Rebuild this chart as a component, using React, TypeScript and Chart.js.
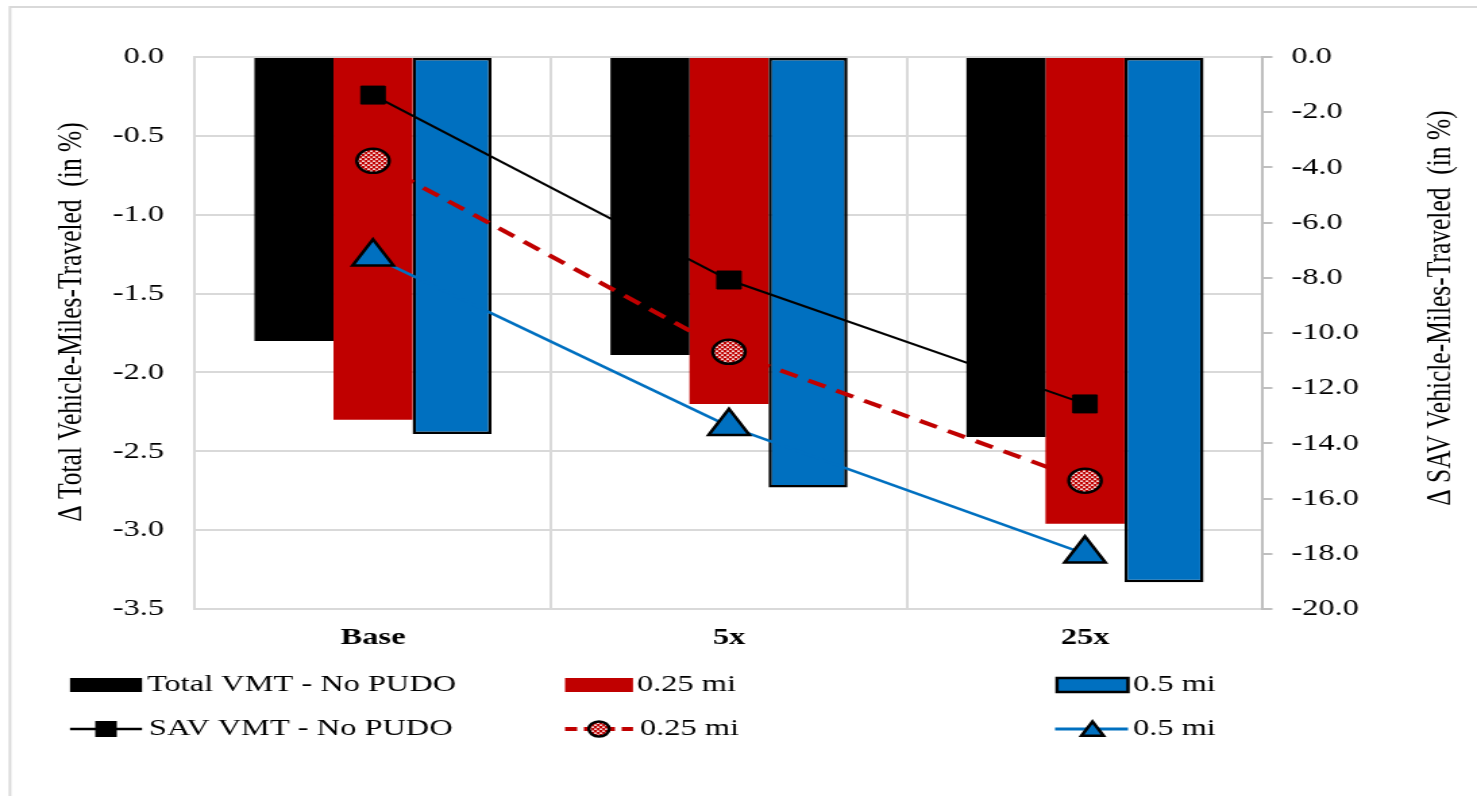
import React, { useEffect, useRef } from 'react';
import Chart from 'chart.js/auto';

// ---- data ----
const categories = ['Base', '5x', '25x'];
const totalVmtNoPudo = [-1.8, -1.89, -2.41];
const totalVmt025 = [-2.3, -2.2, -2.96];
const totalVmt05 = [-2.39, -2.73, -3.33];
const savVmtNoPudo = [-1.38, -8.08, -12.57];
const savVmt025 = [-3.76, -10.68, -15.35];
const savVmt05 = [-7.24, -13.38, -18.0];

const leftAxisMin = -3.5;
const leftAxisMax = 0;
const leftAxisStep = 0.5;
const rightAxisMin = -20;
const rightAxisMax = 0;
const rightAxisStep = 2;

const leftTitle = 'Δ Total Vehicle-Miles-Traveled  (in %)';
const rightTitle = 'Δ SAV Vehicle-Miles-Traveled  (in %)';
const legendBarLabels = ['Total VMT - No PUDO', '0.25 mi', '0.5 mi'];
const legendLineLabels = ['SAV VMT - No PUDO', '0.25 mi', '0.5 mi'];

// ---- styling ----
const BLACK = '#000000';
const RED = '#c00000';
const BLUE = '#0070c0';
const GRID = '#d9d9d9';
const AXIS = '#bfbfbf';
const FONT = "'Liberation Serif', 'Times New Roman', serif";

const OUT_W = 1477;
const OUT_H = 796;
const STRETCH = 1.35;
const W = Math.round(OUT_W / STRETCH);
const H = OUT_H;
const K = OUT_W / W;
const sx = (px: number) => px / K;

function makePattern(ctx: CanvasRenderingContext2D) {
  const pc = document.createElement('canvas');
  pc.width = 4;
  pc.height = 4;
  const p = pc.getContext('2d')!;
  p.fillStyle = RED;
  p.fillRect(0, 0, 4, 4);
  p.fillStyle = '#ffffff';
  p.fillRect(0, 0.5, 2.2, 1.3);
  p.fillRect(2, 2.5, 2.2, 1.3);
  return ctx.createPattern(pc, 'repeat') as CanvasPattern;
}

function drawTriangle(ctx: CanvasRenderingContext2D, x: number, y: number, r: number) {
  ctx.beginPath();
  for (let i = 0; i < 3; i++) {
    const a = (i * 2 * Math.PI) / 3;
    const px = x + Math.sin(a) * r;
    const py = y - Math.cos(a) * r;
    if (i === 0) ctx.moveTo(px, py);
    else ctx.lineTo(px, py);
  }
  ctx.closePath();
}

export default function App() {
  const ref = useRef<HTMLCanvasElement | null>(null);

  useEffect(() => {
    document.body.style.margin = '0';
    document.body.style.overflow = 'hidden';
    const canvas = ref.current!;
    const c2d = canvas.getContext('2d')!;
    const pattern = makePattern(c2d);

    const decor = {
      id: 'decor',
      afterDraw(chart: any) {
        const ctx: CanvasRenderingContext2D = chart.ctx;
        ctx.save();
        // outer frame
        ctx.strokeStyle = GRID;
        ctx.lineWidth = 2;
        ctx.beginPath();
        ctx.moveTo(W + 5, 7);
        ctx.lineTo(sx(10), 7);
        ctx.lineTo(sx(10), H + 5);
        ctx.stroke();

        // axis titles
        ctx.fillStyle = BLACK;
        ctx.font = `25.5px ${FONT}`;
        ctx.textAlign = 'center';
        ctx.textBaseline = 'middle';
        const vText = (t: string, x: number, y: number) => {
          ctx.save();
          ctx.translate(x, y);
          ctx.rotate(-Math.PI / 2);
          ctx.fillText(t, 0, 0);
          ctx.restore();
        };
        vText(leftTitle, sx(72), 322);
        vText(rightTitle, sx(1441), 308);

        // legend
        const r1 = 685;
        const r2 = 729;
        ctx.font = `24px ${FONT}`;
        ctx.textAlign = 'left';
        ctx.textBaseline = 'middle';
        // row 1 swatches
        ctx.fillStyle = BLACK;
        ctx.fillRect(sx(70), 678, sx(142) - sx(70), 14);
        ctx.fillStyle = RED;
        ctx.fillRect(sx(565), 678, sx(633) - sx(565), 14);
        ctx.fillStyle = BLUE;
        ctx.fillRect(sx(1057), 678, sx(1128) - sx(1057), 14);
        ctx.strokeStyle = BLACK;
        ctx.lineWidth = 2.5;
        ctx.strokeRect(sx(1057), 678, sx(1128) - sx(1057), 14);
        ctx.fillStyle = BLACK;
        ctx.fillText(legendBarLabels[0], sx(147), r1);
        ctx.fillText(legendBarLabels[1], sx(637), r1);
        ctx.fillText(legendBarLabels[2], sx(1133), r1);

        // row 2 lines
        ctx.strokeStyle = BLACK;
        ctx.lineWidth = 2.5;
        ctx.beginPath();
        ctx.moveTo(sx(70), r2);
        ctx.lineTo(sx(142), r2);
        ctx.stroke();
        ctx.fillStyle = BLACK;
        ctx.fillRect(sx(106) - 8, r2 - 8, 16, 16);

        ctx.strokeStyle = RED;
        ctx.lineWidth = 4;
        ctx.setLineDash([9, 5]);
        ctx.beginPath();
        ctx.moveTo(sx(565), r2);
        ctx.lineTo(sx(633), r2);
        ctx.stroke();
        ctx.setLineDash([]);
        ctx.beginPath();
        ctx.arc(sx(599), r2, 7.5, 0, Math.PI * 2);
        ctx.fillStyle = pattern;
        ctx.fill();
        ctx.strokeStyle = BLACK;
        ctx.lineWidth = 2.5;
        ctx.stroke();

        ctx.strokeStyle = BLUE;
        ctx.lineWidth = 3;
        ctx.beginPath();
        ctx.moveTo(sx(1055), r2);
        ctx.lineTo(sx(1128), r2);
        ctx.stroke();
        drawTriangle(ctx, sx(1092.5), r2 + 2, 9.5);
        ctx.fillStyle = BLUE;
        ctx.fill();
        ctx.strokeStyle = BLACK;
        ctx.lineWidth = 2.5;
        ctx.stroke();

        ctx.fillStyle = BLACK;
        ctx.fillText(legendLineLabels[0], sx(149), r2);
        ctx.fillText(legendLineLabels[1], sx(640), r2);
        ctx.fillText(legendLineLabels[2], sx(1133), r2);
        ctx.restore();
      },
    };

    const tickFont = { family: FONT, size: 24 };

    const chart = new Chart(canvas, {
      type: 'bar',
      data: {
        labels: categories,
        datasets: [
          {
            type: 'bar',
            label: legendBarLabels[0],
            data: totalVmtNoPudo,
            yAxisID: 'y',
            backgroundColor: BLACK,
            borderWidth: 0,
            order: 2,
          },
          {
            type: 'bar',
            label: legendBarLabels[1],
            data: totalVmt025,
            yAxisID: 'y',
            backgroundColor: RED,
            borderWidth: 0,
            order: 2,
          },
          {
            type: 'bar',
            label: legendBarLabels[2],
            data: totalVmt05,
            yAxisID: 'y',
            backgroundColor: BLUE,
            borderColor: BLACK,
            borderWidth: 2.5,
            borderSkipped: false,
            order: 2,
          },
          {
            type: 'line',
            label: legendLineLabels[0],
            data: savVmtNoPudo,
            yAxisID: 'y2',
            borderColor: BLACK,
            borderWidth: 2,
            pointStyle: 'rect',
            pointRadius: 12.7,
            pointBackgroundColor: BLACK,
            pointBorderColor: BLACK,
            pointBorderWidth: 1,
            order: 1,
          },
          {
            type: 'line',
            label: legendLineLabels[1],
            data: savVmt025,
            yAxisID: 'y2',
            borderColor: RED,
            borderWidth: 4,
            borderDash: [14, 9],
            pointStyle: 'circle',
            pointRadius: 12,
            pointBackgroundColor: pattern,
            pointBorderColor: BLACK,
            pointBorderWidth: 2.5,
            order: 1,
          },
          {
            type: 'line',
            label: legendLineLabels[2],
            data: savVmt05,
            yAxisID: 'y2',
            borderColor: BLUE,
            borderWidth: 2.5,
            pointStyle: 'triangle',
            pointRadius: 17.5,
            pointBackgroundColor: BLUE,
            pointBorderColor: BLACK,
            pointBorderWidth: 2.5,
            order: 1,
          },
        ] as any,
      },
      options: {
        responsive: false,
        animation: false,
        events: [],
        devicePixelRatio: 1,
        layout: { padding: { top: 57, left: 0, right: 0, bottom: 0 } },
        datasets: {
          bar: { categoryPercentage: 0.666, barPercentage: 1 },
        } as any,
        plugins: {
          legend: { display: false },
          tooltip: { enabled: false },
        },
        scales: {
          x: {
            type: 'category',
            grid: { color: GRID, lineWidth: 2, drawTicks: false, offset: true },
            border: { color: GRID, width: 2 },
            ticks: { font: { family: FONT, size: 24, weight: 'bold' }, color: BLACK, padding: 14 },
            afterFit: (s: any) => {
              s.height = H - 609;
            },
          },
          y: {
            type: 'linear',
            position: 'left',
            min: leftAxisMin,
            max: leftAxisMax,
            grid: { color: GRID, lineWidth: 2, drawTicks: false },
            border: { color: GRID, width: 2 },
            ticks: {
              stepSize: leftAxisStep,
              font: tickFont,
              color: BLACK,
              padding: 23,
              callback: (v: any) => Number(v).toFixed(1),
            },
            afterFit: (s: any) => {
              s.width = sx(195);
            },
          },
          y2: {
            type: 'linear',
            position: 'right',
            min: rightAxisMin,
            max: rightAxisMax,
            grid: { drawOnChartArea: false, color: AXIS, lineWidth: 2, tickLength: 7, drawTicks: true },
            border: { color: AXIS, width: 2 },
            ticks: {
              stepSize: rightAxisStep,
              font: tickFont,
              color: BLACK,
              padding: 14,
              callback: (v: any) => Number(v).toFixed(1),
            },
            afterFit: (s: any) => {
              s.width = W - sx(1263);
            },
          },
        } as any,
      },
      plugins: [decor],
    });

    return () => {
      chart.destroy();
    };
  }, []);

  return (
    <div style={{ width: OUT_W, height: OUT_H, background: '#ffffff' }}>
      <canvas
        ref={ref}
        width={W}
        height={H}
        style={{ width: `${OUT_W}px`, height: `${OUT_H}px`, display: 'block' }}
      />
    </div>
  );
}
